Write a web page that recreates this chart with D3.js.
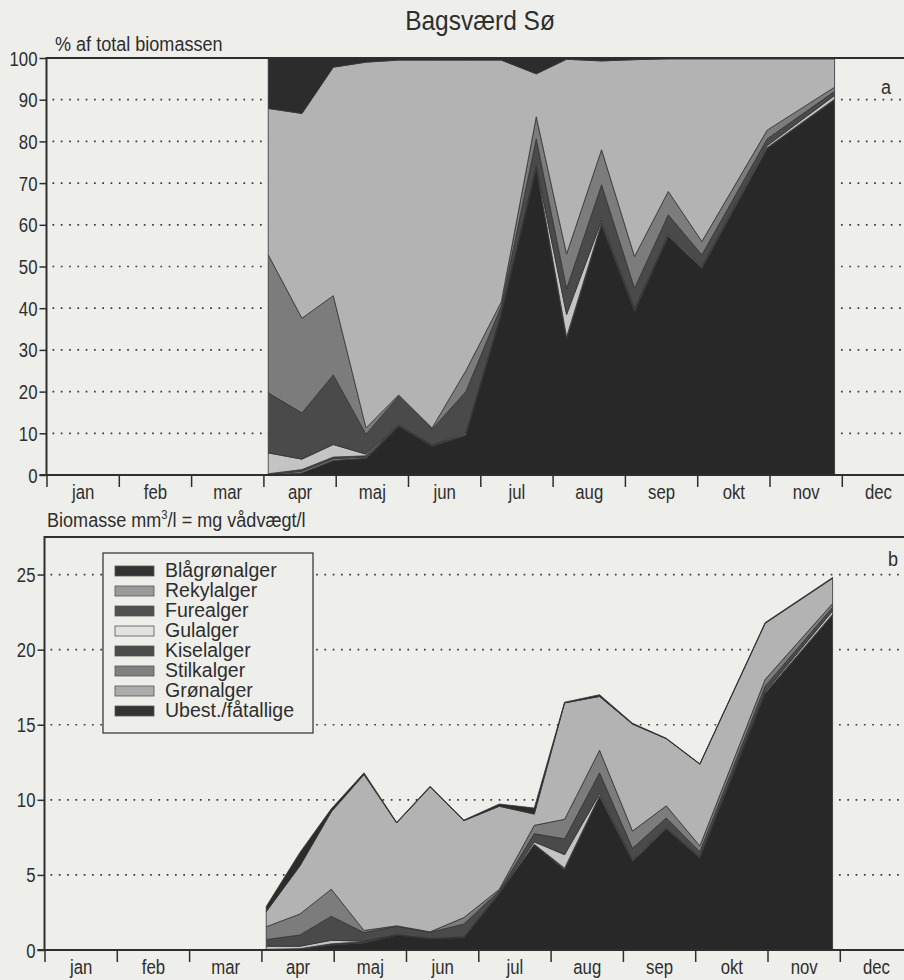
<!DOCTYPE html>
<html>
<head>
<meta charset="utf-8">
<script src="https://cdn.jsdelivr.net/npm/d3@7"></script>
<style>
  html, body { margin: 0; padding: 0; background: #eeeeea; }
  svg { display: block; }
  text { font-family: "Liberation Sans", Arial, sans-serif; }
</style>
</head>
<body>
<svg id="chart" width="904" height="980"></svg>
<script>
// Sampling dates (month-day) through the season
const sampleDates = ["04-03","04-17","04-30","05-14","05-28","06-11","06-25","07-10",
                     "07-25","08-07","08-22","09-05","09-19","10-03","10-31","11-28"];

const groups = ["Blågrønalger","Rekylalger","Furealger","Gulalger",
                "Kiselalger","Stilkalger","Grønalger","Ubest./fåtallige"];

const monthLabels = ["jan","feb","mar","apr","maj","jun","jul","aug","sep","okt","nov","dec"];

const pctTicks = [0,10,20,30,40,50,60,70,80,90,100];
const bioTicks = [0,5,10,15,20,25];

// Panel a: share of total biomass (%)
const pctBlaagroen = [0,0.5,3.5,4.0,11.7,6.9,9.5,38.5,73.4,32.5,60.0,39.2,57.2,49.5,78.3,89.9];
const pctRekyl     = [0.1,0.4,0.4,0.3,0.1,0.1,0.1,0.1,0.2,0.3,0.2,0.2,0.1,0.1,0.1,0.1];
const pctFure      = [0.2,0.4,0.4,0.3,0.1,0.1,0.1,0.1,0.2,0.3,0.2,0.2,0.1,0.1,0.1,0.1];
const pctGul       = [5.0,2.5,3.0,0.4,0.1,0.1,0.3,0.3,0.4,5.4,0.6,0.4,0.3,0.3,0.5,0.9];
const pctKisel     = [14.4,11.1,16.7,4.8,6.9,3.8,10.0,1.5,6.4,6.2,8.6,4.8,4.7,2.8,1.6,1.0];
const pctStilk     = [33.1,22.7,19.0,1.5,0.3,0.3,5.0,1.0,5.3,8.3,8.4,7.6,5.6,3.2,2.1,1.0];
const pctGroen     = [35.1,49.1,54.8,87.7,80.3,88.2,74.5,58.0,10.3,46.7,21.3,47.2,31.8,43.8,17.1,6.8];
const pctUbest     = [12.1,13.3,2.2,1.0,0.5,0.5,0.5,0.5,3.8,0.3,0.7,0.4,0.2,0.2,0.2,0.2];

// Panel b: biomass, mm3/l = mg wet weight/l
const bioBlaagroen = [0,0.03,0.33,0.47,0.99,0.75,0.82,3.74,7.0,5.35,10.2,5.9,8.07,6.13,17.07,22.3];
const bioRekyl     = [0.02,0.03,0.04,0.04,0.01,0.01,0.01,0.01,0.02,0.05,0.03,0.03,0.01,0.01,0.02,0.02];
const bioFure      = [0.02,0.03,0.04,0.04,0.01,0.01,0.01,0.01,0.02,0.05,0.03,0.03,0.01,0.01,0.02,0.02];
const bioGul       = [0.21,0.16,0.24,0.04,0.01,0.01,0.03,0.03,0.16,0.9,0.14,0.08,0.05,0.04,0.09,0.23];
const bioKisel     = [0.45,0.75,1.6,0.57,0.56,0.4,0.86,0.15,0.55,1.05,1.4,0.73,0.66,0.35,0.37,0.25];
const bioStilk     = [0.85,1.4,1.8,0.14,0.03,0.03,0.43,0.1,0.55,1.3,1.5,1.15,0.8,0.39,0.45,0.25];
const bioGroen     = [1.0,3.2,5.15,10.38,6.85,9.64,6.45,5.53,0.75,7.75,3.58,7.12,4.47,5.44,3.73,1.68];
const bioUbest     = [0.35,0.9,0.2,0.12,0.04,0.05,0.04,0.15,0.4,0.05,0.12,0.06,0.03,0.03,0.05,0.05];

const pctSeries = [pctBlaagroen,pctRekyl,pctFure,pctGul,pctKisel,pctStilk,pctGroen,pctUbest];
const bioSeries = [bioBlaagroen,bioRekyl,bioFure,bioGul,bioKisel,bioStilk,bioGroen,bioUbest];

const groupFill  = ["#282828","#8e8e8e","#4e4e4e","#c4c4c4","#4a4a4a","#7c7c7c","#b3b3b3","#2c2c2c"];
const swatchFill = ["#333333","#9a9a9a","#505050","#e2e2e2","#4c4c4c","#808080","#acacac","#333333"];

const daysInMonth = [31,28,31,30,31,30,31,31,30,31,30,31];
// position of a date on the month axis (equal-width months)
function monthPos(md) {
  const [m, d] = md.split("-").map(Number);
  return (m - 1) + (d - 1) / daysInMonth[m - 1];
}

function rows(seriesList) {
  return sampleDates.map((date, i) => {
    const r = { date };
    groups.forEach((g, k) => { r[g] = seriesList[k][i]; });
    return r;
  });
}

const svg = d3.select("#chart");
const ink = "#2e2e2e";
const SQ = 0.86;            // horizontal squeeze for the condensed lettering

// condensed text placed at (x, y)
function condensed(parent, x, y, size, anchor) {
  return parent.append("text")
    .attr("transform", `translate(${x},${y}) scale(${SQ},1)`)
    .attr("text-anchor", anchor || "start")
    .attr("font-size", size)
    .attr("fill", ink);
}

condensed(svg, 480, 30, 28.5, "middle").text("Bagsværd Sø");

function drawPanel(opt) {
  const g = svg.append("g");
  const x = d3.scaleLinear().domain([0, 12]).range([opt.left, opt.left + 12 * 72.3]);
  const y = d3.scaleLinear().domain([0, opt.yMax]).range([opt.bottom, opt.top]);
  const right = x(12);

  // dotted grid
  g.append("g").selectAll("line")
    .data(opt.ticks.filter(t => t > 0 && t < opt.yMax && t !== 100))
    .join("line")
    .attr("x1", opt.left + 6).attr("x2", right)
    .attr("y1", d => y(d)).attr("y2", d => y(d))
    .attr("stroke", "#3a3a3a")
    .attr("stroke-width", 1.7)
    .attr("stroke-dasharray", "1.7,6.6");

  // stacked areas
  const stacked = d3.stack().keys(groups)(rows(opt.series));
  const area = d3.area()
    .x(d => x(monthPos(d.data.date)))
    .y0(d => y(d[0]))
    .y1(d => y(d[1]));
  g.append("g").selectAll("path")
    .data(stacked)
    .join("path")
    .attr("d", area)
    .attr("fill", (d, i) => groupFill[i])
    .attr("stroke", "#333")
    .attr("stroke-width", 0.8);

  // frame
  g.append("rect")
    .attr("x", opt.left).attr("y", y(opt.yMax))
    .attr("width", right - opt.left).attr("height", opt.bottom - y(opt.yMax))
    .attr("fill", "none").attr("stroke", ink).attr("stroke-width", 2);

  // y axis
  const yAxis = g.append("g")
    .attr("transform", `translate(${opt.left},0)`)
    .call(d3.axisLeft(y).tickValues(opt.ticks).tickSize(7).tickPadding(2));
  yAxis.select(".domain").remove();
  yAxis.selectAll("line").attr("stroke", ink).attr("stroke-width", 1.5);
  yAxis.selectAll("text")
    .attr("x", -9 / SQ).attr("dy", "0.36em")
    .attr("transform", `scale(${SQ},1)`)
    .attr("font-size", 19.5).attr("fill", ink);

  // month boundaries
  const xTicks = g.append("g")
    .attr("transform", `translate(0,${opt.bottom})`)
    .call(d3.axisBottom(x).tickValues(d3.range(0, 13)).tickSize(12).tickFormat(""));
  xTicks.select(".domain").remove();
  xTicks.selectAll("line").attr("stroke", ink).attr("stroke-width", 1.5);

  // month names centred in each month
  const xLabels = g.append("g")
    .attr("transform", `translate(0,${opt.bottom})`)
    .call(d3.axisBottom(x).tickValues(d3.range(12).map(m => m + 0.5)).tickSize(0)
      .tickFormat((d, i) => monthLabels[i]));
  xLabels.select(".domain").remove();
  xLabels.selectAll("text")
    .attr("y", 24).attr("dy", 0)
    .attr("transform", `scale(${SQ},1)`)
    .attr("font-size", 19.5).attr("fill", ink);

  // axis line extends under the zero tick
  g.append("line")
    .attr("x1", opt.left - 7).attr("x2", right)
    .attr("y1", opt.bottom).attr("y2", opt.bottom)
    .attr("stroke", ink).attr("stroke-width", 2);

  // panel letter
  condensed(g, opt.letterX, opt.letterY, 21, "middle").text(opt.letter);

  return { x, y, g };
}

// panel a
drawPanel({
  left: 46.5, top: 58, bottom: 475, yMax: 100,
  ticks: pctTicks, series: pctSeries,
  letter: "a", letterX: 886, letterY: 94
});
condensed(svg, 55, 51, 21).text("% af total biomassen");

// panel b
drawPanel({
  left: 44.5, top: 537, bottom: 950, yMax: 27.5,
  ticks: bioTicks, series: bioSeries,
  letter: "b", letterX: 893, letterY: 566
});
const yLab = condensed(svg, 47, 527, 21);
yLab.append("tspan").text("Biomasse mm");
yLab.append("tspan").attr("dy", -8).attr("font-size", 13).text("3");
yLab.append("tspan").attr("dy", 8).text("/l = mg vådvægt/l");

// legend
const leg = svg.append("g").attr("transform", "translate(103,553)");
leg.append("rect")
  .attr("width", 210).attr("height", 180)
  .attr("fill", "#eeeeea").attr("stroke", ink).attr("stroke-width", 1.2);
const items = leg.selectAll("g.item").data(groups).join("g")
  .attr("class", "item")
  .attr("transform", (d, i) => `translate(12,${13 + i * 20})`);
items.append("rect")
  .attr("width", 39).attr("height", 10)
  .attr("fill", (d, i) => swatchFill[i])
  .attr("stroke", "#555").attr("stroke-width", 0.8);
items.append("text")
  .attr("x", 50).attr("y", 11)
  .attr("font-size", 19.5).attr("fill", ink)
  .text(d => d);
</script>
</body>
</html>
